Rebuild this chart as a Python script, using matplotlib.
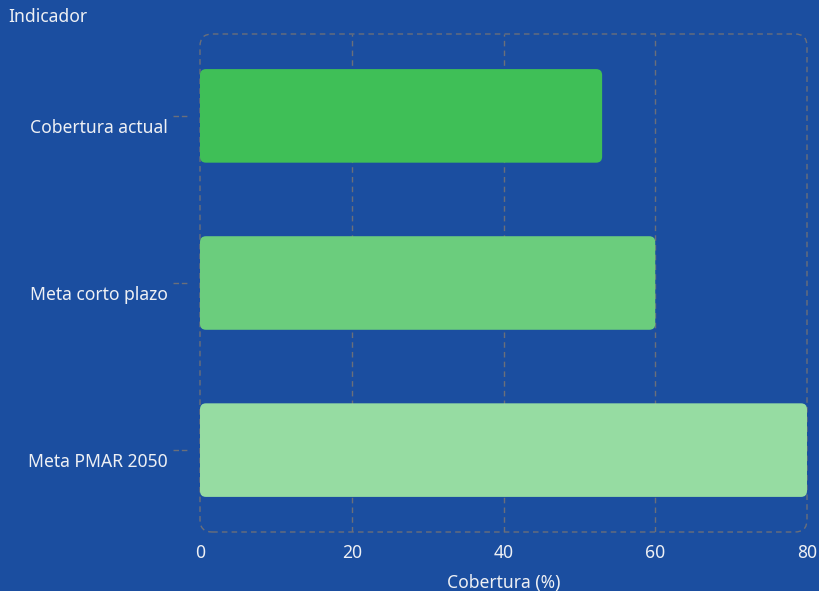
import matplotlib.pyplot as plt
from matplotlib.patches import FancyBboxPatch
from matplotlib.transforms import blended_transform_factory, ScaledTranslation

plt.rcParams['font.family'] = ['Noto Sans', 'DejaVu Sans']

categories = ['Cobertura actual', 'Meta corto plazo', 'Meta PMAR 2050']
values = [53, 60, 80]
colors = ['#3fbf57', '#6bcd7d', '#96dca2']
xticks = [0, 20, 40, 60, 80]

bg = '#1b4ea0'
grid_color = '#6b6f7a'
text_color = '#eef0f4'
fs = 12.6

# Set up the figure.
fig = plt.figure(figsize=(8.19, 5.91), dpi=100)
fig.patch.set_facecolor(bg)
ax = fig.add_axes([200 / 819, 59 / 591, 607 / 819, 498 / 591])
ax.set_facecolor(bg)
ax.set_xlim(0, 80)
ax.set_ylim(2.49, -0.49)

for s in ax.spines.values():
    s.set_visible(False)

# Vertical grid lines.
for t in xticks[1:-1]:
    ax.axvline(t, color=grid_color, linestyle=(0, (4, 3)), linewidth=1, zorder=1)

# Rounded dashed frame.
frame = FancyBboxPatch(
    (0, 0), 1, 1,
    boxstyle='round,pad=0,rounding_size=0.02',
    mutation_aspect=607 / 498,
    transform=ax.transAxes,
    facecolor='none', edgecolor=grid_color,
    linestyle=(0, (4, 3)), linewidth=1, clip_on=False, zorder=1,
)
ax.add_patch(frame)

# Bars with rounded corners.
bar_h = 0.56
px_x = 80 / 607
px_y = 2.98 / 498
for i, (v, c) in enumerate(zip(values, colors)):
    bar = FancyBboxPatch(
        (0, i - bar_h / 2), v, bar_h,
        boxstyle='round,pad=0,rounding_size=%f' % (6 * px_x),
        mutation_aspect=px_y / px_x,
        facecolor=c, edgecolor='none', zorder=2,
    )
    ax.add_patch(bar)

# Ticks and labels.
ax.set_yticks(range(len(categories)))
ax.set_yticklabels(categories, fontsize=fs, color=text_color)
ax.set_xticks(xticks)
ax.set_xticklabels([str(t) for t in xticks], fontsize=fs, color=text_color)
ax.tick_params(axis='y', length=0, pad=23)
ax.tick_params(axis='x', length=0, pad=9)

# Category labels sit a little below their tick marks.
shift = ScaledTranslation(0, -0.1, fig.dpi_scale_trans)
for lab in ax.get_yticklabels():
    lab.set_transform(lab.get_transform() + shift)

# Short dashed tick marks at the left.
trans = blended_transform_factory(ax.transAxes, ax.transData)
for i in range(len(categories)):
    ax.plot([-27 / 607, -12 / 607], [i, i], color=grid_color, linewidth=1,
            linestyle=(0, (4, 2)), transform=trans, clip_on=False)

ax.set_xlabel('Cobertura (%)', fontsize=fs, color=text_color, labelpad=8.5)
fig.text(8 / 819, 1 - 17 / 591, 'Indicador', fontsize=fs, color=text_color,
         ha='left', va='center')

fig.savefig('out.png', dpi=100, facecolor=bg)
